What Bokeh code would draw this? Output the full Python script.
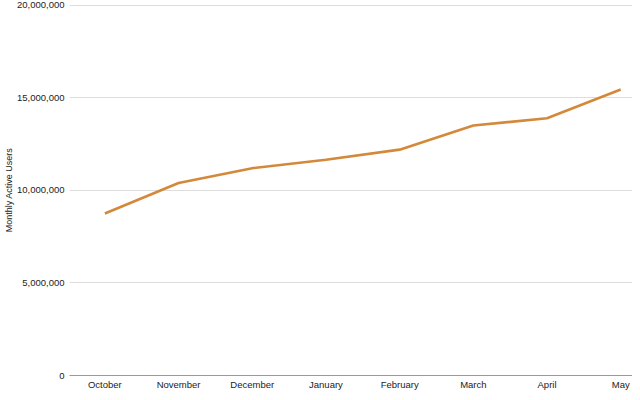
from bokeh.plotting import figure
from bokeh.models import Range1d, FixedTicker, NumeralTickFormatter
from bokeh.embed import file_html
from bokeh.resources import INLINE

months = ["October", "November", "December", "January", "February", "March", "April", "May"]
users = [8750000, 10400000, 11200000, 11650000, 12200000, 13500000, 13900000, 15450000]
y_ticks = [0, 5000000, 10000000, 15000000, 20000000]

xs = list(range(len(months)))

p = figure(width=632, height=392, output_backend="svg", toolbar_location=None,
           x_range=Range1d(-0.48, len(months) - 0.84), y_range=Range1d(0, 20040000),
           min_border_left=56, min_border_right=0, min_border_top=4, min_border_bottom=12)
p.outline_line_color = None

p.line(xs, users, line_color="#D4893A", line_width=2.6)

font = "Liberation Sans"
p.xaxis.ticker = FixedTicker(ticks=xs)
p.xaxis.major_label_overrides = {i: m for i, m in enumerate(months)}
p.xaxis.major_tick_line_color = None
p.xaxis.minor_tick_line_color = None
p.xaxis.major_tick_out = 0
p.xaxis.major_tick_in = 0
p.xaxis.minor_tick_out = 0
p.xaxis.minor_tick_in = 0
p.xaxis.axis_label = None
p.xaxis.axis_label_standoff = 0
p.xaxis.axis_line_color = "#999999"
p.xaxis.axis_line_width = 1
p.xaxis.major_label_text_font = font
p.xaxis.major_label_text_font_size = "9.5px"
p.xaxis.major_label_text_color = "#222222"
p.xaxis.major_label_standoff = 3

p.yaxis.ticker = FixedTicker(ticks=y_ticks)
p.yaxis.formatter = NumeralTickFormatter(format="0,0")
p.yaxis.axis_line_color = None
p.yaxis.major_tick_line_color = None
p.yaxis.minor_tick_line_color = None
p.yaxis.major_tick_out = 0
p.yaxis.major_tick_in = 0
p.yaxis.minor_tick_out = 0
p.yaxis.minor_tick_in = 0
p.yaxis.major_label_text_font = font
p.yaxis.major_label_text_font_size = "9.5px"
p.yaxis.major_label_text_color = "#222222"
p.yaxis.major_label_standoff = 5
p.yaxis.axis_label = "Monthly Active Users"
p.yaxis.axis_label_text_font = font
p.yaxis.axis_label_text_font_size = "9px"
p.yaxis.axis_label_text_font_style = "normal"
p.yaxis.axis_label_text_color = "#222222"
p.yaxis.axis_label_standoff = 0

p.xgrid.grid_line_color = None
p.ygrid.grid_line_color = "#dddddd"
p.ygrid.grid_line_width = 1

open("out.html", "w").write(file_html(p, INLINE))
